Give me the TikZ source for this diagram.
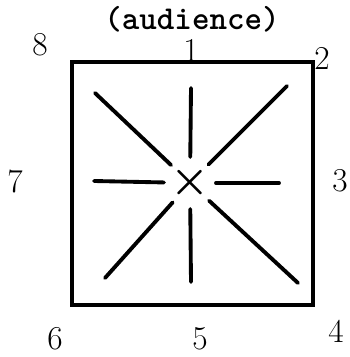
\documentclass[tikz,border=0pt]{standalone}
\usepackage{amsmath,amssymb}
\usepackage{tikz}
\usetikzlibrary{positioning}

\begin{document}
\begin{tikzpicture}[
  x=0.02cm, y=-0.02cm,
  num/.style={font=\fontsize{19}{22}\selectfont,inner sep=0pt},
  aud/.style={font=\ttfamily\bfseries\fontsize{19}{22}\selectfont,inner sep=0pt},
  stage/.style={line width=2pt},
  ray/.style={line width=2.2pt,line cap=round},
  spot/.style={circle,minimum size=1cm,inner sep=0pt,font=\fontsize{36}{40}\selectfont},
]
\useasboundingbox (0,0) rectangle (349,357);
% stage
\draw[stage] (72,62) rectangle (313,305);
% centre and rays
\node[spot] (ctr) at (190,183) {$\boldsymbol{\times}$};
\coordinate (n) at (191,88);
\coordinate (s) at (191,282);
\coordinate (w) at (94,181);
\coordinate (e) at (279,183);
\coordinate (nw) at (95,93);
\coordinate (ne) at (287,86);
\coordinate (sw) at (105,278);
\coordinate (se) at (298,283);
\foreach \p in {n,s,w,e,nw,ne,sw,se}
  \draw[ray] (\p) -- (ctr);
% labels
\node[aud] (audience) at (192,19) {(audience)};
\node[num] (one) at (191,50) {1};
\node[num] (two) at (322,58) {2};
\node[num] (three) at (340,181) {3};
\node[num] (four) at (336,331) {4};
\node[num] (five) at (200,339) {5};
\node[num] (six) at (55,339) {6};
\node[num] (seven) at (15,181) {7};
\node[num] (eight) at (40,45) {8};
\end{tikzpicture}
\end{document}
